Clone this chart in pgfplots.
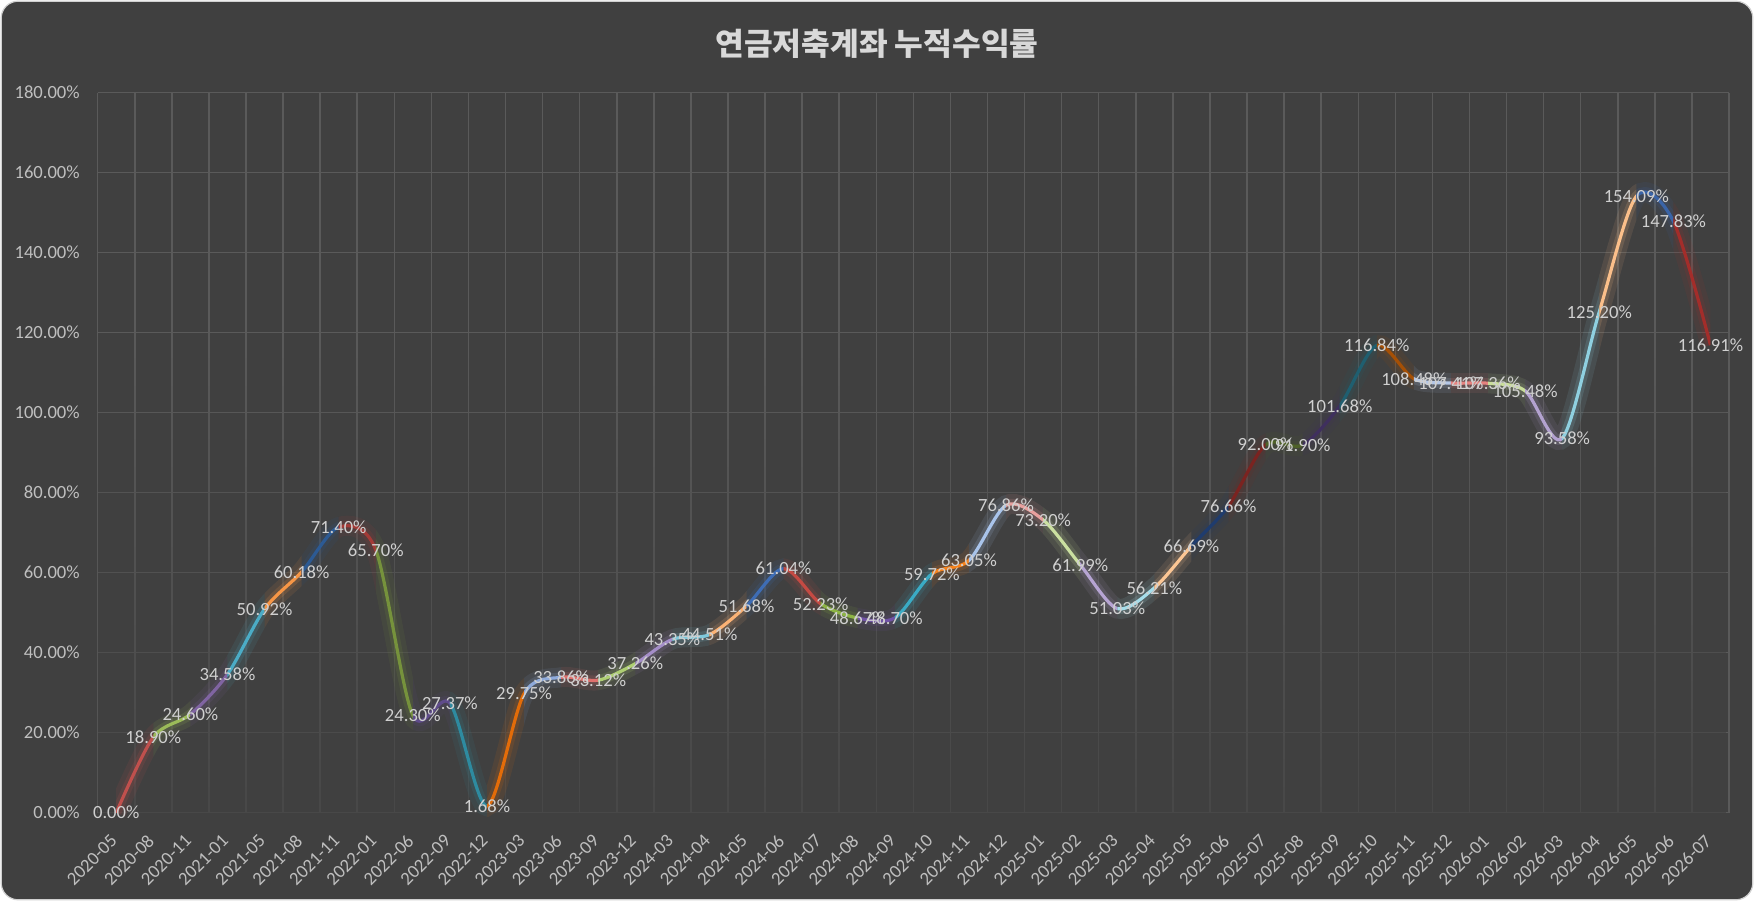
\documentclass[border=0pt]{standalone}
\usepackage{fontspec}
\setmainfont{Carlito}
\newfontfamily\krfont{Noto Sans CJK KR}
\usepackage{pgfplots}
\usepackage{pgfplotstable}
\pgfplotsset{compat=1.18}
\usetikzlibrary{fadings}
\tikzfading[name=gridfade, top color=transparent!100, bottom color=transparent!0]

\definecolor{bgc}{HTML}{404040}
\definecolor{gridc}{HTML}{5A5A5A}
\definecolor{tickc}{HTML}{BFBFBF}
\definecolor{labelc}{HTML}{D0D0D0}
\definecolor{titlec}{HTML}{D9D9D9}
\definecolor{borderc}{HTML}{D0D0D0}

\definecolor{c1}{HTML}{C0504D}
\definecolor{c2}{HTML}{9BBB59}
\definecolor{c3}{HTML}{8064A2}
\definecolor{c4}{HTML}{4BACC6}
\definecolor{c5}{HTML}{F79646}
\definecolor{c6}{HTML}{2C5A94}
\definecolor{c7}{HTML}{A33B37}
\definecolor{c8}{HTML}{76923C}
\definecolor{c9}{HTML}{5F4B8B}
\definecolor{c10}{HTML}{2E8BA0}
\definecolor{c11}{HTML}{E36C09}
\definecolor{c12}{HTML}{8EAADB}
\definecolor{c13}{HTML}{E0716E}
\definecolor{c14}{HTML}{AECF72}
\definecolor{c15}{HTML}{A48DC8}
\definecolor{c16}{HTML}{7FC9DC}
\definecolor{c17}{HTML}{FBB275}
\definecolor{c18}{HTML}{3E6DB5}
\definecolor{c19}{HTML}{C44A43}
\definecolor{c20}{HTML}{8DB545}
\definecolor{c21}{HTML}{7052A5}
\definecolor{c22}{HTML}{3AABC5}
\definecolor{c23}{HTML}{F7821B}
\definecolor{c24}{HTML}{A9C4EB}
\definecolor{c25}{HTML}{E8A09E}
\definecolor{c26}{HTML}{CBE0A0}
\definecolor{c27}{HTML}{B6A4D3}
\definecolor{c28}{HTML}{A5DDEA}
\definecolor{c29}{HTML}{FCC694}
\definecolor{c30}{HTML}{1F3C6E}
\definecolor{c31}{HTML}{7B2320}
\definecolor{c32}{HTML}{4F6228}
\definecolor{c33}{HTML}{3F2F5E}
\definecolor{c34}{HTML}{1F5F70}
\definecolor{c35}{HTML}{A65005}
\definecolor{c36}{HTML}{B4C7E7}
\definecolor{c37}{HTML}{E6827F}
\definecolor{c38}{HTML}{C9DE9B}
\definecolor{c39}{HTML}{B3A2D0}
\definecolor{c40}{HTML}{8FD0E0}
\definecolor{c41}{HTML}{FBBF8A}
\definecolor{c42}{HTML}{3A64A8}
\definecolor{c43}{HTML}{A32D2A}

\pgfplotstableread{
x y
0 0.00
1 18.90
2 24.60
3 34.58
4 50.92
5 60.18
6 71.40
7 65.70
8 24.30
9 27.37
10 1.68
11 29.75
12 33.86
13 33.12
14 37.26
15 43.35
16 44.51
17 51.68
18 61.04
19 52.23
20 48.67
21 48.70
22 59.72
23 63.05
24 76.86
25 73.20
26 61.99
27 51.03
28 56.21
29 66.69
30 76.66
31 92.00
32 91.90
33 101.68
34 116.84
35 108.48
36 107.41
37 107.36
38 105.48
39 93.58
40 125.20
41 154.09
42 147.83
43 116.91
}\datatable

\pgfplotsset{/pgf/number format/assume math mode=true}

\begin{document}
\begin{tikzpicture}
\path[use as bounding box] (0,0) rectangle (877pt,450.5pt);
\draw[draw=borderc, fill=bgc, rounded corners=8.5pt, line width=0.6pt] (0.6pt,0.6pt) rectangle (876.4pt,449.9pt);
\node[text=titlec, font=\krfont\bfseries\fontsize{15.6}{17}\selectfont] at (438.5pt,428.5pt) {연금저축계좌 누적수익률};
\begin{axis}[
 at={(48.85pt,44.15pt)}, anchor=south west,
 scale only axis, width=815.65pt, height=360pt,
 xmin=-0.5, xmax=43.5, ymin=0, ymax=180,
 clip=false,
 axis line style={draw=none},
 tick style={draw=none},
 xtick={0,...,43},
 xticklabels={2020-05,2020-08,2020-11,2021-01,2021-05,2021-08,2021-11,2022-01,2022-06,2022-09,2022-12,2023-03,2023-06,2023-09,2023-12,2024-03,2024-04,2024-05,2024-06,2024-07,2024-08,2024-09,2024-10,2024-11,2024-12,2025-01,2025-02,2025-03,2025-04,2025-05,2025-06,2025-07,2025-08,2025-09,2025-10,2025-11,2025-12,2026-01,2026-02,2026-03,2026-04,2026-05,2026-06,2026-07},
 minor xtick={-0.5,0.5,...,43.5},
 xminorgrids,
 minor grid style={gridc, line width=0.75pt},
 ytick={0,20,...,180},
 yticklabels={0.00\%,20.00\%,40.00\%,60.00\%,80.00\%,100.00\%,120.00\%,140.00\%,160.00\%,180.00\%},
 ymajorgrids,
 major grid style={gridc, line width=0.75pt},
 ticklabel style={font=\fontsize{9.3}{11}\selectfont, text=tickc},
 yticklabel style={anchor=east, inner sep=0pt},
 yticklabel shift=8.8pt,
 xticklabel style={rotate=45, anchor=east, inner sep=0pt, xshift=-1.5pt},
 xticklabel shift=11.5pt,
]
\begin{scope}
\clip (axis cs:-0.5,0) rectangle (axis cs:43.5,180);
\fill[bgc, fill opacity=0.92, path fading=gridfade] (axis cs:-0.5,-40) rectangle (axis cs:43.5,120);
\end{scope}

\pgfplotsinvokeforeach{1,...,43}{
 \begin{scope}
 \clip (axis cs:#1-1,-20) rectangle (axis cs:#1,200);
 \addplot[smooth, no markers, draw=c#1, line width=10pt, opacity=0.10] table[x=x,y=y] {\datatable};
 \addplot[smooth, no markers, draw=c#1, line width=5pt, opacity=0.15] table[x=x,y=y] {\datatable};
 \addplot[smooth, no markers, draw=c#1, line width=1.6pt] table[x=x,y=y] {\datatable};
 \end{scope}
}

\addplot[draw=none, no markers, point meta=y,
 nodes near coords={\pgfmathprintnumber[fixed,fixed zerofill,precision=2]{\pgfplotspointmeta}\%},
 every node near coord/.append style={anchor=center, inner sep=0pt, text=labelc, font=\fontsize{9.3}{11}\selectfont}]
 table[x=x,y=y] {\datatable};
\end{axis}
\end{tikzpicture}
\end{document}
